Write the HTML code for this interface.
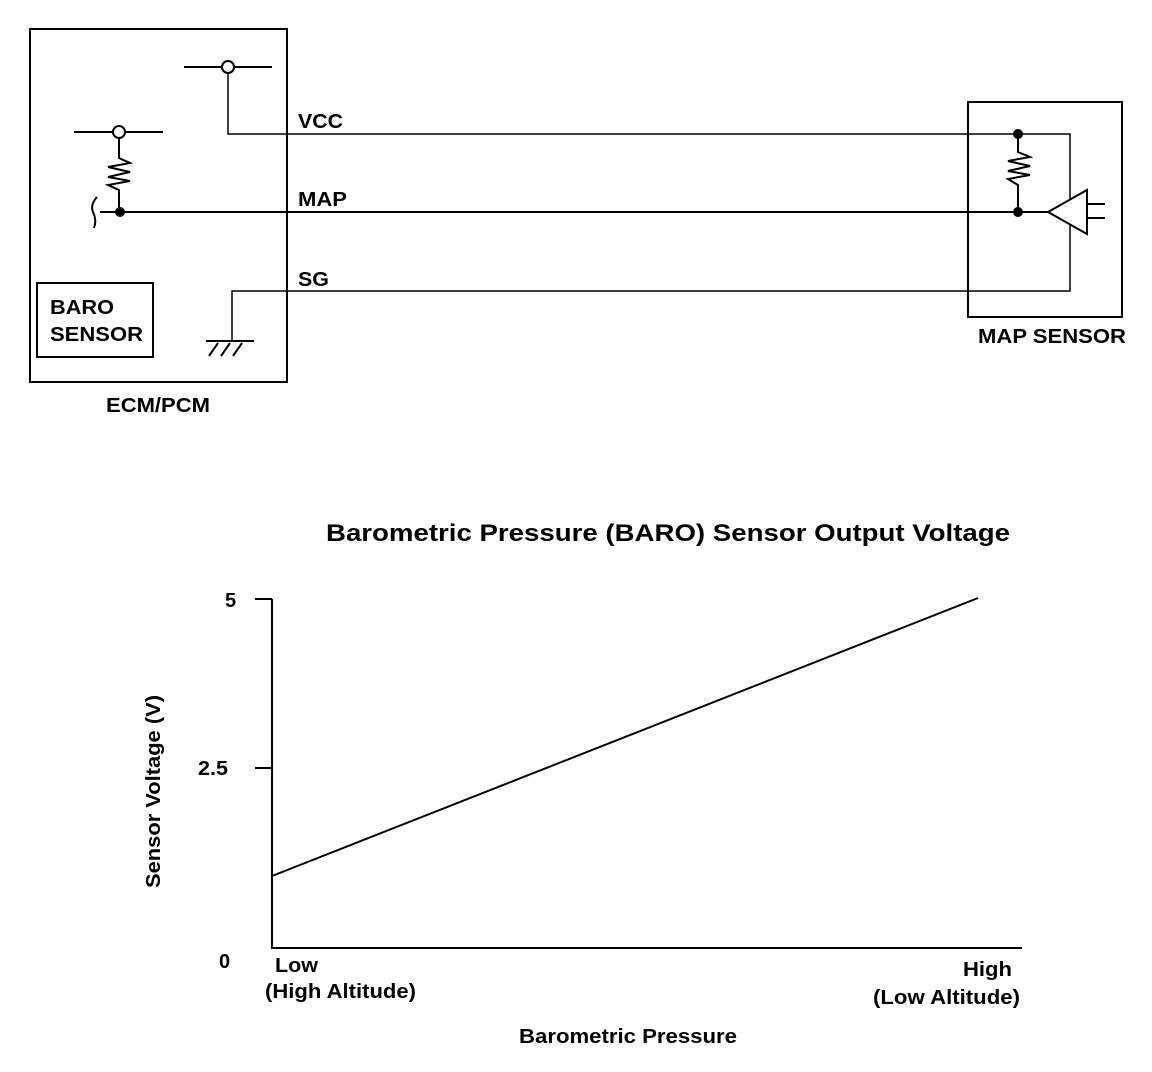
<!DOCTYPE html>
<html><head><style>body{margin:0;background:#fff}svg{display:block}text{font-family:"Liberation Sans",Arial,sans-serif;font-weight:bold;fill:#000}</style></head>
<body>
<svg width="1152" height="1072" viewBox="0 0 1152 1072" xmlns="http://www.w3.org/2000/svg">
<g fill="none" stroke="#000" stroke-width="2">
<rect x="30" y="29" width="257" height="353"/>
<rect x="37" y="283" width="116" height="74"/>
<rect x="968" y="102" width="154" height="215"/>
<line x1="184" y1="67" x2="272" y2="67"/>
<line x1="74" y1="132" x2="163" y2="132"/>
<polyline points="228,73 228,134 1070,134 1070,291 232,291 232,341" stroke-width="1.5"/>
<line x1="206" y1="341" x2="254" y2="341"/>
<line x1="218" y1="343" x2="209" y2="356"/>
<line x1="230" y1="343" x2="221" y2="356"/>
<line x1="242" y1="343" x2="233" y2="356"/>
<line x1="100" y1="212" x2="1018" y2="212"/>
<line x1="1018" y1="212" x2="1048" y2="212"/>
<path d="M97,197 Q90,205 93,212 Q97,220 94,228"/>
<polyline points="119,138 119,158 130,163 108,167 130,172 108,177 130,181 108,185 119,190 119,212"/>
<polyline points="1018,134 1018,152 1030,157 1008,161 1030,166 1008,171 1030,175 1008,179 1018,185 1018,212"/>
<polygon points="1048,212 1087,190 1087,234" fill="#fff"/>
<line x1="1087" y1="204" x2="1105" y2="204"/>
<line x1="1087" y1="218" x2="1105" y2="218"/>
<circle cx="228" cy="67" r="6" fill="#fff"/>
<circle cx="119" cy="132" r="6" fill="#fff"/>
<polyline points="272,599 272,948 1022,948"/>
<line x1="255" y1="599" x2="272" y2="599"/>
<line x1="255" y1="768" x2="272" y2="768"/>
<line x1="272" y1="876" x2="978" y2="598"/>
</g>
<circle cx="120" cy="212" r="5"/>
<circle cx="1018" cy="134" r="5"/>
<circle cx="1018" cy="212" r="5"/>
<g font-size="20" lengthAdjust="spacingAndGlyphs">
<text x="298" y="128" textLength="45" lengthAdjust="spacingAndGlyphs">VCC</text>
<text x="298" y="206" textLength="49" lengthAdjust="spacingAndGlyphs">MAP</text>
<text x="298" y="286" textLength="31" lengthAdjust="spacingAndGlyphs">SG</text>
<text x="50" y="314" textLength="64" lengthAdjust="spacingAndGlyphs">BARO</text>
<text x="50" y="341" textLength="93" lengthAdjust="spacingAndGlyphs">SENSOR</text>
<text x="106" y="412" textLength="104" lengthAdjust="spacingAndGlyphs">ECM/PCM</text>
<text x="978" y="343" textLength="148" lengthAdjust="spacingAndGlyphs">MAP SENSOR</text>
<text x="326" y="541" font-size="24" textLength="684" lengthAdjust="spacingAndGlyphs">Barometric Pressure (BARO) Sensor Output Voltage</text>
<text x="225" y="607">5</text>
<text x="198" y="775" textLength="30" lengthAdjust="spacingAndGlyphs">2.5</text>
<text x="219" y="968">0</text>
<text x="275" y="972" textLength="43" lengthAdjust="spacingAndGlyphs">Low</text>
<text x="265" y="998" textLength="151" lengthAdjust="spacingAndGlyphs">(High Altitude)</text>
<text x="963" y="976" textLength="49" lengthAdjust="spacingAndGlyphs">High</text>
<text x="873" y="1004" textLength="147" lengthAdjust="spacingAndGlyphs">(Low Altitude)</text>
<text x="519" y="1043" textLength="218" lengthAdjust="spacingAndGlyphs">Barometric Pressure</text>
<text transform="translate(160,888) rotate(-90)" textLength="193" lengthAdjust="spacingAndGlyphs">Sensor Voltage (V)</text>
</g>
</svg>
</body></html>
